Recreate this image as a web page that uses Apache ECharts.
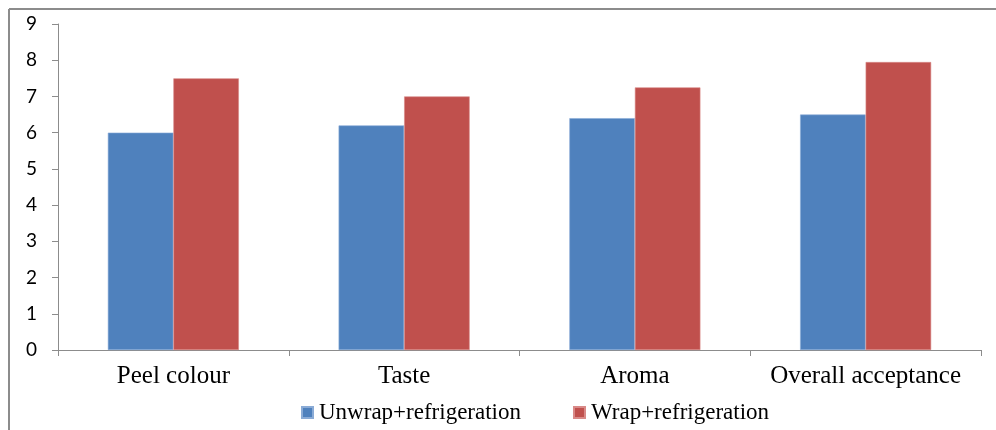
<!DOCTYPE html>
<html>
<head>
<meta charset="utf-8">
<style>
  html, body { margin: 0; padding: 0; background: #ffffff; }
  #chart { width: 996px; height: 430px; }
</style>
<script src="https://cdn.jsdelivr.net/npm/echarts@6/dist/echarts.min.js"></script>
</head>
<body>
<div id="chart"></div>
<script>
// Sensory scores for stored fruit, by attribute and storage treatment
const categories = ['Peel colour', 'Taste', 'Aroma', 'Overall acceptance'];
const seriesNames = ['Unwrap+refrigeration', 'Wrap+refrigeration'];
const unwrapScores = [6.0, 6.2, 6.4, 6.5];
const wrapScores = [7.5, 7.0, 7.25, 7.95];
const yTicks = [0, 1, 2, 3, 4, 5, 6, 7, 8, 9];

const chart = echarts.init(document.getElementById('chart'));

const axisGrey = '#8c8c8c';
const serif = '"Liberation Serif", "Times New Roman", serif';

chart.setOption({
  animation: false,
  backgroundColor: '#ffffff',
  textStyle: { fontFamily: serif },
  grid: { left: 58, right: 15, top: 24, bottom: 80, containLabel: false },
  // outer frame: top and left edges
  graphic: [
    { type: 'line', shape: { x1: 9, y1: 9, x2: 996, y2: 9 }, style: { stroke: axisGrey, lineWidth: 2 } },
    { type: 'line', shape: { x1: 9, y1: 9, x2: 9, y2: 430 }, style: { stroke: axisGrey, lineWidth: 2 } }
  ],
  legend: {
    data: seriesNames,
    left: 301,
    top: 401,
    padding: 0,
    icon: 'rect',
    itemWidth: 11,
    itemHeight: 11,
    itemGap: 52,
    textStyle: { fontFamily: serif, fontSize: 23, color: '#000000', padding: [0, 0, 0, 1] }
  },
  xAxis: {
    type: 'category',
    data: categories,
    axisLine: { show: true, lineStyle: { color: axisGrey, width: 1 } },
    axisTick: { show: true, alignWithLabel: false, length: 6, lineStyle: { color: axisGrey } },
    axisLabel: { fontFamily: serif, fontSize: 25, color: '#000000', margin: 14, interval: 0 },
    splitLine: { show: false }
  },
  yAxis: {
    type: 'value',
    min: yTicks[0],
    max: yTicks[yTicks.length - 1],
    interval: 1,
    axisLine: { show: true, lineStyle: { color: axisGrey, width: 1 } },
    axisTick: { show: true, length: 6, lineStyle: { color: axisGrey } },
    axisLabel: { fontFamily: 'Lato, "Open Sans", sans-serif', fontSize: 19, color: '#000000', margin: 21 },
    splitLine: { show: false }
  },
  series: [
    {
      name: seriesNames[0],
      type: 'bar',
      data: unwrapScores,
      barWidth: '28.4%',
      barGap: '0%',
      itemStyle: { color: '#4f81bd', borderColor: '#8aabd6', borderWidth: 0.6 }
    },
    {
      name: seriesNames[1],
      type: 'bar',
      data: wrapScores,
      barWidth: '28.4%',
      barGap: '0%',
      itemStyle: { color: '#c0504d', borderColor: '#d98a88', borderWidth: 0.6 }
    }
  ]
});
</script>
</body>
</html>
